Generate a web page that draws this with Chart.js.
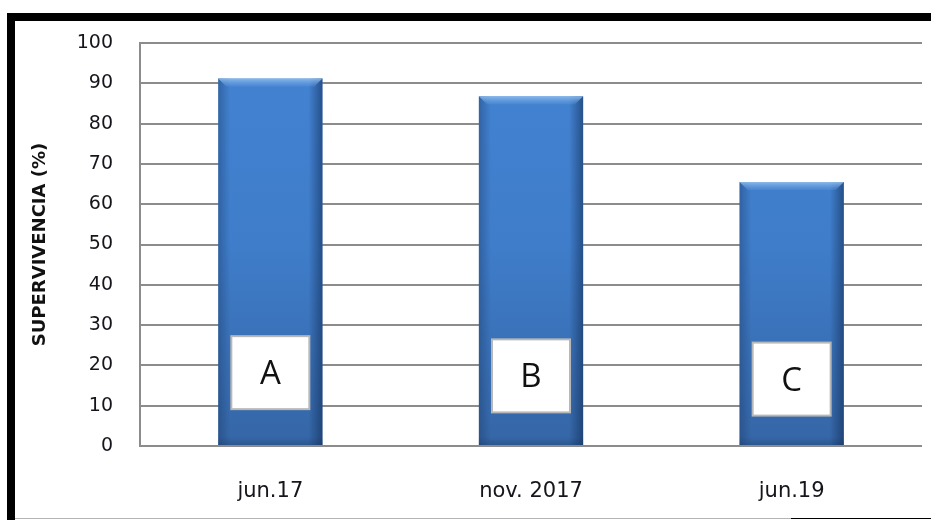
<!DOCTYPE html>
<html>
<head>
<meta charset="utf-8">
<script src="https://cdn.jsdelivr.net/npm/chart.js@4/dist/chart.umd.min.js"></script>
<style>
  html, body { margin: 0; padding: 0; background: #fff; }
  #wrap { width: 931px; height: 520px; position: relative; }
</style>
</head>
<body>
<div id="wrap"><canvas id="chart"></canvas></div>
<script>
// ==== data ====
const categories = ['jun.17', 'nov. 2017', 'jun.19'];
const supervivencia = [91.2, 86.8, 65.5];
const groupLetters = ['A', 'B', 'C'];
const yTicks = [0, 10, 20, 30, 40, 50, 60, 70, 80, 90, 100];

const GRID = '#8c8c8c';
const TEXT = '#15151c';

// frame around the figure (thick black top + left edge, thin bottom rule)
const framePlugin = {
  id: 'frame',
  beforeDraw(chart) {
    const { ctx, width, height } = chart;
    ctx.save();
    ctx.fillStyle = '#fff';
    ctx.fillRect(0, 0, width, height);
    ctx.restore();
  },
  afterDraw(chart) {
    const { ctx, width, height } = chart;
    ctx.save();
    ctx.fillStyle = '#000';
    ctx.fillRect(7, 13, width - 7, 8);
    ctx.fillRect(7, 13, 8, height - 13);
    ctx.fillStyle = '#b4b4b4';
    ctx.fillRect(15, height - 2, 776, 1);
    ctx.fillStyle = '#000';
    ctx.fillRect(791, height - 2, width - 791, 1);
    ctx.restore();
  }
};

// bevel shading on each bar + the lettered white boxes
const barDecor = {
  id: 'barDecor',
  afterDatasetsDraw(chart) {
    const { ctx } = chart;
    const yScale = chart.scales.y;
    const meta = chart.getDatasetMeta(0);
    ctx.save();
    meta.data.forEach((bar, i) => {
      const { x, y, base, width } = bar.getProps(['x', 'y', 'base', 'width'], true);
      const l = x - width / 2, r = x + width / 2;

      // darker side edges
      let g = ctx.createLinearGradient(l, 0, l + 12, 0);
      g.addColorStop(0, 'rgba(25,55,100,0.4)');
      g.addColorStop(1, 'rgba(25,55,100,0)');
      ctx.fillStyle = g;
      ctx.fillRect(l, y, 12, base - y);
      g = ctx.createLinearGradient(r - 14, 0, r, 0);
      g.addColorStop(0, 'rgba(15,40,80,0)');
      g.addColorStop(1, 'rgba(15,40,80,0.55)');
      ctx.fillStyle = g;
      ctx.fillRect(r - 14, y, 14, base - y);

      // light bevel along the top
      ctx.beginPath();
      ctx.moveTo(l, y);
      ctx.lineTo(r, y);
      ctx.lineTo(r - 8, y + 8);
      ctx.lineTo(l + 8, y + 8);
      ctx.closePath();
      g = ctx.createLinearGradient(0, y, 0, y + 8);
      g.addColorStop(0, 'rgba(150,195,240,0.85)');
      g.addColorStop(1, 'rgba(110,165,230,0.2)');
      ctx.fillStyle = g;
      ctx.fill();

      // slightly darker foot
      g = ctx.createLinearGradient(0, base - 8, 0, base);
      g.addColorStop(0, 'rgba(20,50,95,0)');
      g.addColorStop(1, 'rgba(20,50,95,0.3)');
      ctx.fillStyle = g;
      ctx.fillRect(l, base - 8, width, 8);

      // lettered box
      const cy = yScale.getPixelForValue(18.2 - i * 0.8);
      const bw = 78, bh = 73;
      ctx.fillStyle = '#fff';
      ctx.fillRect(x - bw / 2, cy - bh / 2, bw, bh);
      ctx.strokeStyle = '#b8b8b8';
      ctx.lineWidth = 2;
      ctx.strokeRect(x - bw / 2, cy - bh / 2, bw, bh);
      ctx.fillStyle = '#111';
      ctx.font = '33px "Open Sans", sans-serif';
      ctx.textAlign = 'center';
      ctx.textBaseline = 'middle';
      ctx.fillText(groupLetters[i], x, cy + 2);
    });
    ctx.restore();
  }
};

const ctx = document.getElementById('chart').getContext('2d');
new Chart(ctx, {
  type: 'bar',
  data: {
    labels: categories,
    datasets: [{
      label: 'SUPERVIVENCIA (%)',
      data: supervivencia,
      barPercentage: 0.4,
      categoryPercentage: 1,
      borderWidth: 0,
      backgroundColor(c) {
        const area = c.chart.chartArea;
        if (!area) return '#3f7ecb';
        const g = c.chart.ctx.createLinearGradient(0, area.top, 0, area.bottom);
        g.addColorStop(0, '#4383d2');
        g.addColorStop(0.5, '#3f7dca');
        g.addColorStop(1, '#3566a6');
        return g;
      }
    }]
  },
  options: {
    responsive: true,
    maintainAspectRatio: false,
    animation: false,
    layout: { padding: { top: 43, right: 9, left: 0, bottom: 0 } },
    plugins: {
      legend: { display: false },
      tooltip: { enabled: false }
    },
    scales: {
      x: {
        grid: { display: false, drawTicks: false },
        border: { display: false },
        ticks: {
          color: TEXT,
          padding: 33,
          font: { family: '"DejaVu Sans", Verdana, sans-serif', size: 21 }
        },
        afterFit(scale) { scale.height = 74; }
      },
      y: {
        min: 0,
        max: 100,
        afterBuildTicks(scale) { scale.ticks = yTicks.map(v => ({ value: v })); },
        grid: { color: GRID, lineWidth: 2, drawTicks: false },
        border: { display: true, color: GRID, width: 2 },
        ticks: {
          color: TEXT,
          padding: 27,
          font: { family: '"DejaVu Sans", Verdana, sans-serif', size: 19 }
        },
        title: {
          display: true,
          text: 'SUPERVIVENCIA (%)',
          color: '#111',
          padding: { top: 30, bottom: 0 },
          font: { family: '"DejaVu Sans", Verdana, sans-serif', size: 18, weight: 'bold' }
        },
        afterFit(scale) { scale.width = 140; }
      }
    }
  },
  plugins: [framePlugin, barDecor]
});
</script>
</body>
</html>
